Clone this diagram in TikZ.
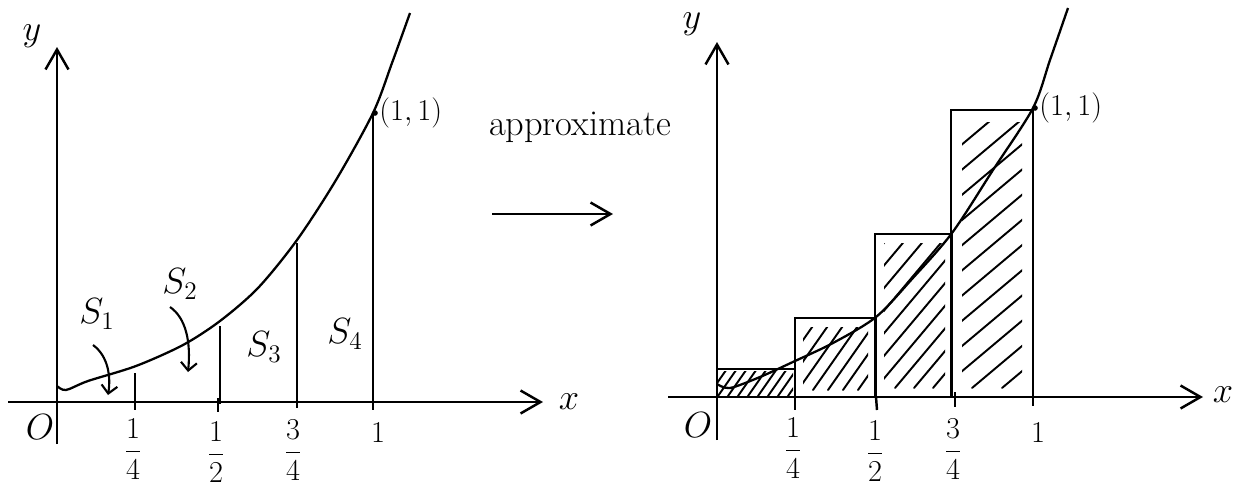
\documentclass[tikz,border=0pt]{standalone}
\usetikzlibrary{arrows.meta,positioning}

\tikzset{
  axis/.style={line width=1.4pt, -{Straight Barb[length=4mm,width=4.6mm]}},
  graph/.style={line width=1.3pt},
  edge/.style={line width=1.4pt},
  hatch/.style={line width=1.1pt, line cap=round},
  pointer/.style={line width=1.2pt, -{Straight Barb[length=1.6mm,width=3.2mm]}},
  lbl/.style={font=\huge, inner sep=0pt},
  frac/.style={font=\LARGE, inner sep=0pt},
  pt/.style={font=\LARGE, inner sep=0pt},
}

% hatch lines inside a box: x0, y0 (bottom), x1, y1 (top), step, dx, dy
\newcommand{\hatchbox}[7]{%
  \begin{scope}
    \clip (#1,#2) rectangle (#3,#4);
    \foreach \k in {0,...,60}
      \draw[hatch] ({#1-350+\k*#5},#2) -- ++(#6,#7);
  \end{scope}}

\begin{document}
\begin{tikzpicture}[x=0.02cm, y=-0.02cm]
  \useasboundingbox (0,0) rectangle (1238,487);

  % left graph
  \coordinate (Lxl) at (8,402);
  \coordinate (Lxr) at (543,402);
  \coordinate (Lyb) at (57,444);
  \coordinate (Lyt) at (57,47);
  \draw[axis] (Lxl) -- (Lxr);
  \draw[axis] (Lyb) -- (Lyt);
  \node[lbl] (Lx) at (569,402) {$x$};
  \node[lbl] (Ly) at (32,36) {$y$};
  \node[lbl] (LO) at (40,427) {$O$};

  \draw[graph] plot[smooth, tension=0.5] coordinates {
    (57,386) (66,390) (88,381) (136,366) (183,345) (220,321) (258,288)
    (297,240) (336,180) (373,113) (392,63) (410,13)};

  \draw[edge] (135,373) -- (135,410);
  \draw[edge] (220,326) -- (220,404);
  \draw[edge] (218,398) -- (218,412);
  \draw[edge] (297,243) -- (297,408);
  \draw[edge] (373,113) -- (373,410);
  \coordinate (Lp) at (375,113);
  \fill (Lp) circle (1.6pt);
  \node[pt, right=0.08cm of Lp] (L11) {$(1,1)$};

  \node[frac] (Lq1) at (133,449) {$\displaystyle\frac{1}{4}$};
  \node[frac] (Lq2) at (216,452) {$\displaystyle\frac{1}{2}$};
  \node[frac] (Lq3) at (293,450) {$\displaystyle\frac{3}{4}$};
  \node[pt] (Lq4) at (378,433) {$1$};

  \node[lbl] (S1) at (97,314) {$S_1$};
  \node[lbl] (S2) at (180,284) {$S_2$};
  \node[lbl] (S3) at (264,347) {$S_3$};
  \node[lbl] (S4) at (345,334) {$S_4$};
  \coordinate (S1a) at (93,345);
  \coordinate (S1b) at (108,395);
  \coordinate (S2a) at (170,307);
  \coordinate (S2b) at (188,372);
  \draw[pointer] (S1a) .. controls (108,356) and (111,376) .. (S1b);
  \draw[pointer] (S2a) .. controls (186,318) and (191,342) .. (S2b);

  % approximate
  \node[lbl] (approx) at (580,127) {approximate};
  \coordinate (Aa) at (492,214);
  \coordinate (Ab) at (613,214);
  \draw[axis] (Aa) -- (Ab);

  % right graph
  \coordinate (Rxl) at (668,397);
  \coordinate (Rxr) at (1203,397);
  \coordinate (Ryb) at (717,440);
  \coordinate (Ryt) at (717,42);

  \hatchbox{718}{396}{793}{371}{10}{60}{-86}
  \hatchbox{803}{390}{868}{327}{15}{150}{-214}
  \hatchbox{884}{388}{945}{243}{19}{300}{-357}
  \hatchbox{962}{388}{1022}{122}{30}{500}{-420}

  \draw[edge] (717,397) rectangle (795,369);
  \draw[edge] (795,397) rectangle (876,318);
  \draw[edge] (875,397) rectangle (952,234);
  \draw[edge] (951,397) rectangle (1033,110);
  \draw[edge] (795,397) -- (795,410);
  \draw[edge] (876,397) -- (877,410);
  \draw[edge] (955,392) -- (955,407);
  \draw[edge] (1033,397) -- (1033,406);

  \draw[axis] (Rxl) -- (Rxr);
  \draw[axis] (Ryb) -- (Ryt);
  \node[lbl] (Rx) at (1223,395) {$x$};
  \node[lbl] (Ry) at (692,24) {$y$};
  \node[lbl] (RO) at (698,425) {$O$};

  \draw[graph] plot[smooth, tension=0.5] coordinates {
    (717,384) (730,388) (760,377) (795,361) (833,343) (876,317) (912,279)
    (952,233) (993,170) (1033,108) (1050,60) (1068,8)};
  \coordinate (Rp) at (1035,108);
  \fill (Rp) circle (1.6pt);
  \node[pt, right=0.08cm of Rp] (R11) {$(1,1)$};

  \node[frac] (Rq1) at (793,448) {$\displaystyle\frac{1}{4}$};
  \node[frac] (Rq2) at (875,451) {$\displaystyle\frac{1}{2}$};
  \node[frac] (Rq3) at (953,449) {$\displaystyle\frac{3}{4}$};
  \node[pt] (Rq4) at (1038,433) {$1$};
\end{tikzpicture}
\end{document}
